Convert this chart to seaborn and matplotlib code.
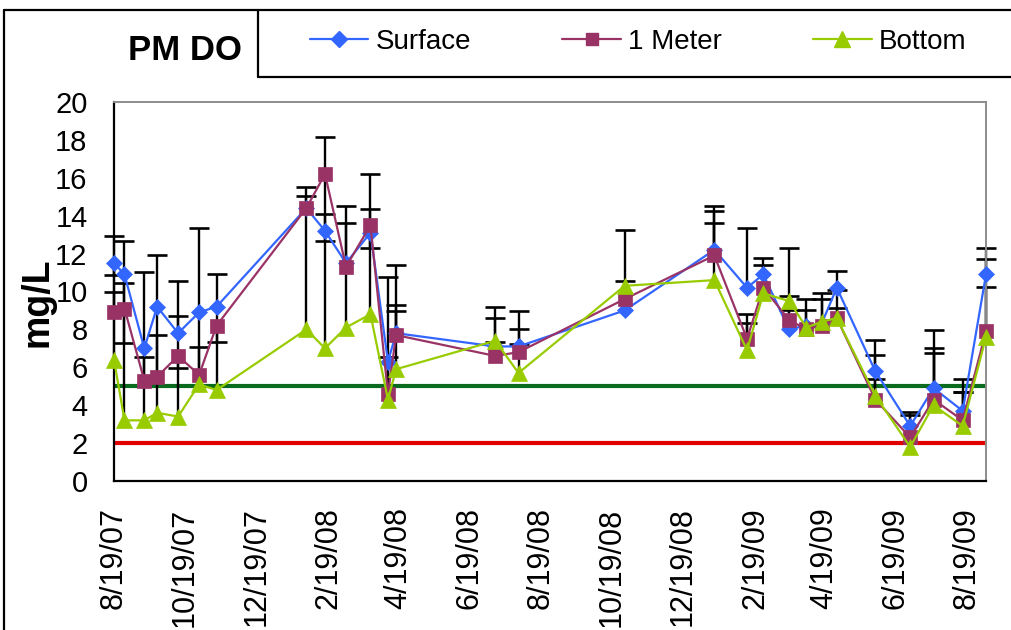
import pandas as pd
import matplotlib
matplotlib.use("Agg")
import matplotlib.pyplot as plt
from matplotlib.lines import Line2D
import seaborn as sns

# Sampling dates
dates = ["2007-08-19", "2007-08-28", "2007-09-14", "2007-09-25", "2007-10-13",
         "2007-10-31", "2007-11-15", "2008-01-31", "2008-02-16", "2008-03-05",
         "2008-03-26", "2008-04-10", "2008-04-17", "2008-07-11", "2008-07-31",
         "2008-10-30", "2009-01-15", "2009-02-12", "2009-02-26", "2009-03-20",
         "2009-04-04", "2009-04-17", "2009-04-30", "2009-06-02", "2009-07-02",
         "2009-07-22", "2009-08-16", "2009-09-05"]

# Afternoon dissolved oxygen (mg/L) by depth
surface = [11.5, 10.9, 7.0, 9.2, 7.8, 8.9, 9.2, 14.4, 13.2, 11.5, 13.1, 6.3, 7.8, 7.1,
           7.1, 9.0, 12.2, 10.2, 10.9, 8.0, 8.2, 8.3, 10.2, 5.8, 2.9, 4.9, 3.7, 10.9]
meter = [8.9, 9.1, 5.3, 5.5, 6.6, 5.6, 8.2, 14.4, 16.2, 11.3, 13.5, 4.6, 7.7, 6.6,
         6.8, 9.6, 11.9, 7.5, 10.2, 8.5, 8.0, 8.2, 8.6, 4.3, 2.3, 4.3, 3.2, 7.9]
bottom = [6.4, 3.2, 3.2, 3.6, 3.4, 5.1, 4.8, 8.0, 7.0, 8.1, 8.8, 4.3, 5.9, 7.4,
          5.7, 10.3, 10.6, 6.9, 9.9, 9.5, 8.1, 8.4, 8.6, 4.5, 1.8, 4.0, 2.9, 7.6]

# Error bar extents above (hi) and below (lo) each value
surface_hi = [0, 0, 0, 0, 0.9, 0, 0, 0.65, 0.9, 0, 1.25, 0, 1.5, 0.25,
              0.15, 0, 2.05, 3.15, 0.85, 1.75, 1.4, 1.6, 0.9, 1.65, 0.75, 2.1, 1.7, 0.8]
surface_lo = [0.65, 0, 0, 0, 0, 0, 0, 0, 0.55, 0, 0, 0, 0, 0,
              0, 0, 0, 0, 0, 0, 0, 0, 0, 0, 0, 0, 0, 0]
meter_hi = [1.1, 1.35, 1.25, 2.2, 0, 1.45, 0, 0, 0, 2.3, 0, 1.95, 1.25, 2.6,
            1.2, 0.95, 1.7, 1.3, 1.2, 0.5, 1.05, 0, 1.5, 2.35, 1.2, 2.45, 1.5, 2.35]
meter_lo = [0, 1.8, 0, 0, 0.65, 0, 0.85, 0, 0, 0, 1.2, 0, 0, 0,
            0, 0, 0, 0, 0, 0, 0, 0, 0, 0, 0, 0, 0, 0]
bottom_hi = [6.55, 9.45, 7.85, 8.35, 7.15, 8.25, 6.1, 7.5, 11.15, 6.4, 7.4, 6.45, 5.5, 1.2,
             3.25, 2.95, 3.9, 1.45, 0, 2.8, 0, 1.2, 0.55, 0.9, 0, 3.95, 1.8, 4.7]
bottom_lo = [0] * len(dates)

# Reference levels (mg/L)
upper_limit = 5
lower_limit = 2

tick_dates = ["2007-08-19", "2007-10-19", "2007-12-19", "2008-02-19", "2008-04-19",
              "2008-06-19", "2008-08-19", "2008-10-19", "2008-12-19", "2009-02-19",
              "2009-04-19", "2009-06-19", "2009-08-19"]
tick_labels = ["8/19/07", "10/19/07", "12/19/07", "2/19/08", "4/19/08", "6/19/08",
               "8/19/08", "10/19/08", "12/19/08", "2/19/09", "4/19/09", "6/19/09",
               "8/19/09"]
y_ticks = [0, 2, 4, 6, 8, 10, 12, 14, 16, 18, 20]

series_names = ["Surface", "1 Meter", "Bottom"]
colors = {"Surface": "#3366FF", "1 Meter": "#993366", "Bottom": "#99CC00"}
markers = {"Surface": "D", "1 Meter": "s", "Bottom": "^"}
msizes = {"Surface": 8.5, "1 Meter": 9.5, "Bottom": 12}

sns.set_style("white")
plt.rcParams["font.family"] = ["Liberation Sans", "DejaVu Sans"]
for key in ["text.color", "axes.labelcolor", "xtick.color", "ytick.color"]:
    plt.rcParams[key] = "black"

W, H = 1011, 630
fig = plt.figure(figsize=(W / 100, H / 100), dpi=100)
ax = fig.add_axes([114 / W, 1 - 481 / H, (986 - 114) / W, (481 - 102) / H])

x = pd.to_datetime(pd.Series(dates))
frame = pd.DataFrame({"date": x, "Surface": surface, "1 Meter": meter, "Bottom": bottom})
hi = {"Surface": surface_hi, "1 Meter": meter_hi, "Bottom": bottom_hi}
lo = {"Surface": surface_lo, "1 Meter": meter_lo, "Bottom": bottom_lo}

# Threshold lines
ax.axhline(upper_limit, color="#0A6B1E", lw=3, zorder=1.5)
ax.axhline(lower_limit, color="#E00000", lw=3, zorder=1.5)

# Error bars: vertical stems plus flat caps
for name in series_names:
    vals = frame[name]
    up = pd.Series(hi[name])
    dn = pd.Series(lo[name])
    m_up = up > 0
    m_dn = dn > 0
    ax.vlines(frame["date"][m_up], vals[m_up], (vals + up)[m_up], color="black",
              lw=1.7, zorder=2, clip_on=False)
    ax.plot(frame["date"][m_up], (vals + up)[m_up], ls="none", marker="_",
            ms=15, mew=1.9, color="black", zorder=2, clip_on=False)
    ax.vlines(frame["date"][m_dn], (vals - dn)[m_dn], vals[m_dn], color="black",
              lw=1.7, zorder=2, clip_on=False)
    ax.plot(frame["date"][m_dn], (vals - dn)[m_dn], ls="none", marker="_",
            ms=15, mew=1.9, color="black", zorder=2, clip_on=False)

# Data series
for name in series_names:
    sns.lineplot(data=frame, x="date", y=name, ax=ax, color=colors[name],
                 marker=markers[name], markersize=msizes[name],
                 markeredgecolor=colors[name], markeredgewidth=0.5,
                 linewidth=1.6, zorder=3, clip_on=False, sort=False)

ax.set_xlim(pd.Timestamp(dates[0]), pd.Timestamp(dates[-1]))
ax.set_ylim(0, 20)
ax.set_yticks(y_ticks)
ax.set_xticks(pd.to_datetime(tick_dates))
ax.set_xticklabels(tick_labels, rotation=90, fontsize=22)
ax.tick_params(axis="y", labelsize=21, direction="inout", length=20, width=1.5,
               pad=9, color="black", labelcolor="black")
ax.tick_params(axis="x", direction="out", length=9, width=1.5, pad=10, color="black",
               labelcolor="black")
for lab in ax.get_xticklabels():
    lab.set_verticalalignment("top")
ax.set_xlabel("")
ax.set_ylabel("")
ax.grid(False)

for side in ["left", "bottom"]:
    ax.spines[side].set_color("black")
    ax.spines[side].set_linewidth(1.6)
for side in ["top", "right"]:
    ax.spines[side].set_visible(True)
    ax.spines[side].set_color("#8C8C8C")
    ax.spines[side].set_linewidth(1.4)

fig.text(38 / W, 1 - 302 / H, "mg/L", rotation=90, fontsize=27, fontweight="bold",
         ha="center", va="center", color="black")
fig.text(185 / W, 1 - 50 / H, "PM DO", fontsize=25, fontweight="bold",
         ha="center", va="center", color="black")

# Header frame and legend box
def fig_line(xs, ys, lw=1.6):
    fig.add_artist(Line2D([v / W for v in xs], [1 - v / H for v in ys],
                          color="black", lw=lw, transform=fig.transFigure))

fig_line([4, W], [10, 10])
fig_line([4, 4], [10, H])
fig_line([258, 258], [10, 77])
fig_line([258, W], [77, 77])

handles = [Line2D([], [], color=colors[n], marker=markers[n], markersize=msizes[n] * 0.95,
                  markeredgecolor=colors[n], lw=1.6) for n in series_names]
leg = fig.legend(handles, series_names, loc="center left",
                 bbox_to_anchor=(310 / W, 1 - 42 / H), ncol=3, frameon=False,
                 fontsize=20, handlelength=2.1, handletextpad=0.25,
                 columnspacing=3.3, borderpad=0, borderaxespad=0)
for t in leg.get_texts():
    t.set_color("black")

fig.savefig("out.png", dpi=100)
